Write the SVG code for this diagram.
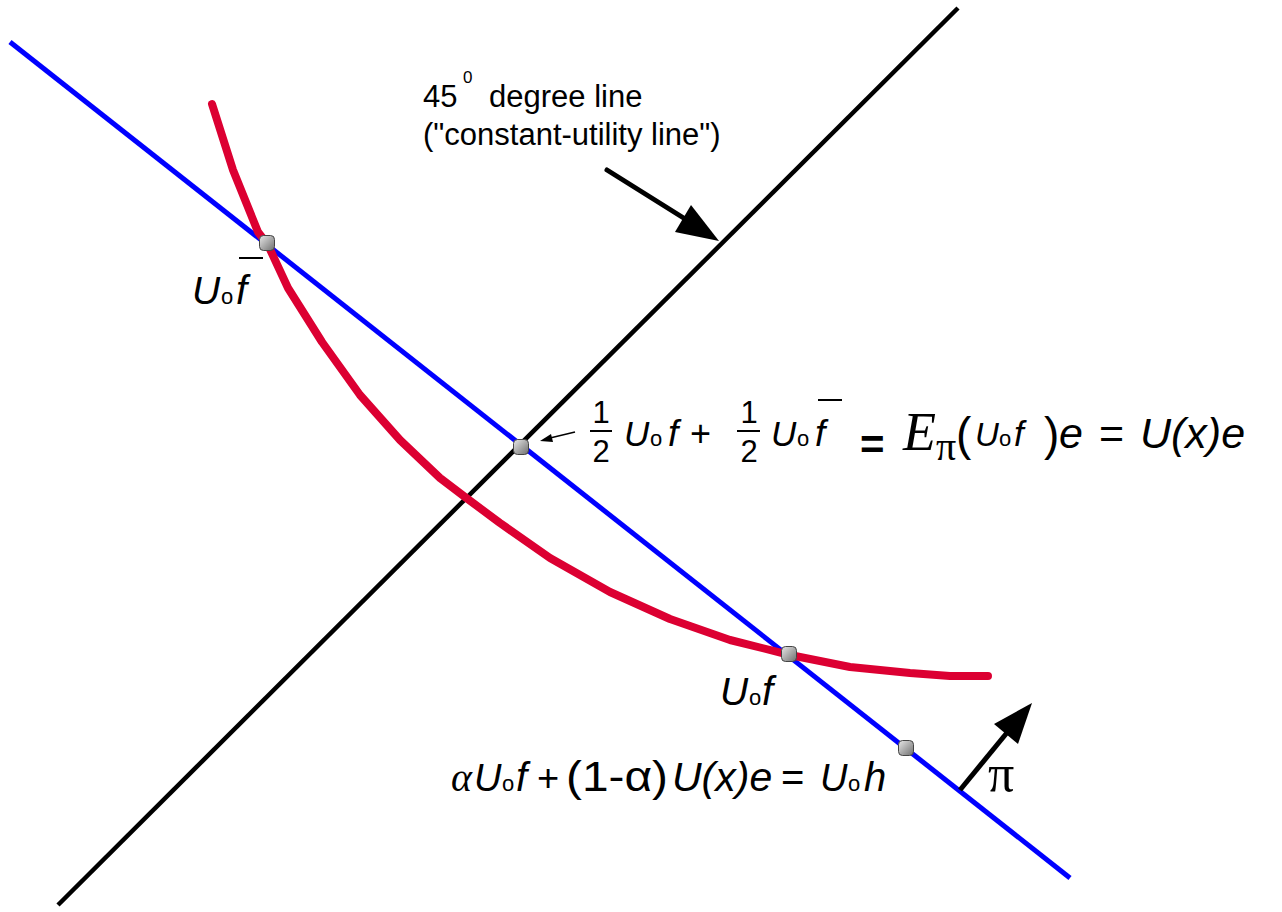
<svg xmlns="http://www.w3.org/2000/svg" width="1282" height="912" viewBox="0 0 1282 912">
<defs>
<linearGradient id="g" x1="0" y1="0" x2="1" y2="1">
<stop offset="0" stop-color="#e8e8e8"/>
<stop offset="1" stop-color="#6e6e6e"/>
</linearGradient>
<style>
.s{font-family:"Liberation Sans",Arial,sans-serif;fill:#000}
.i{font-style:italic}
.r{font-family:"Liberation Serif","Times New Roman",serif;fill:#000}
.o{font-family:"Liberation Sans",Arial,sans-serif;fill:#000;font-size:22px}
.bar{stroke:#000;stroke-width:2}
.pt{fill:url(#g);stroke:#444;stroke-width:1}
</style>
</defs>
<rect width="1282" height="912" fill="#fff"/>
<g id="connectors">
<line x1="58" y1="905" x2="958" y2="8" stroke="#000" stroke-width="4.5"/>
<line x1="10" y1="42" x2="1070" y2="878" stroke="#0000ff" stroke-width="5"/>
<polyline fill="none" stroke="#dc0032" stroke-width="8" stroke-linejoin="round" stroke-linecap="round" points="212,104 233,170 258,232 268,245 288,288 322,342 360,395 400,440 440,478 465,497 500,523 550,558 610,592 670,619 730,640 790,655 850,667 910,673 950,676 988,676"/>
<line x1="607" y1="170" x2="690" y2="222" stroke="#000" stroke-width="5" stroke-linecap="round"/>
<polygon points="719,241 675,232 691,205" fill="#000"/>
<line x1="960" y1="790" x2="1010" y2="729" stroke="#000" stroke-width="5"/>
<polygon points="1032,703 994,724 1018,744" fill="#000"/>
<line x1="575" y1="432" x2="550" y2="438" stroke="#000" stroke-width="1.5"/>
<polygon points="540,441 551,434 553,442" fill="#000"/>
</g>
<g id="points">
<rect class="pt" x="259.5" y="235.5" width="15" height="15" rx="4"/>
<rect class="pt" x="513.5" y="439.5" width="15" height="15" rx="4"/>
<rect class="pt" x="781.5" y="646.5" width="15" height="15" rx="4"/>
<rect class="pt" x="898.5" y="740.5" width="15" height="15" rx="4"/>
</g>
<g id="label-45">
<text class="s" x="423" y="107" font-size="31">45</text>
<text class="s" x="463" y="83" font-size="17">0</text>
<text class="s" x="489" y="107" font-size="31">degree line</text>
<text class="s" x="423" y="145" font-size="31">("constant-utility line")</text>
</g>
<g id="label-ufbar">
<text class="s i" x="192" y="304" font-size="39">U</text>
<text class="o" x="221" y="304">o</text>
<text class="s i" x="236" y="304" font-size="40">f</text>
<line class="bar" x1="239" y1="258" x2="263" y2="258"/>
</g>
<g id="label-uf">
<text class="s i" x="720" y="705" font-size="39">U</text>
<text class="o" x="749" y="705">o</text>
<text class="s i" x="762" y="705" font-size="40">f</text>
</g>
<g id="label-mid">
<text class="s" x="601" y="423" font-size="31" text-anchor="middle">1</text>
<line class="bar" x1="590" y1="431" x2="612" y2="431"/>
<text class="s" x="601" y="462" font-size="31" text-anchor="middle">2</text>
<text class="s i" x="624" y="446" font-size="35">U</text>
<text class="o" x="650" y="446">o</text>
<text class="s i" x="668" y="446" font-size="37">f</text>
<text class="s" x="690" y="446" font-size="36">+</text>
<text class="s" x="749" y="423" font-size="31" text-anchor="middle">1</text>
<line class="bar" x1="737" y1="431" x2="760" y2="431"/>
<text class="s" x="749" y="462" font-size="31" text-anchor="middle">2</text>
<text class="s i" x="771" y="446" font-size="35">U</text>
<text class="o" x="797" y="446">o</text>
<text class="s i" x="815" y="446" font-size="37">f</text>
<line class="bar" x1="818" y1="400" x2="842" y2="400"/>
<text class="s" x="860" y="459" font-size="42" font-weight="bold">=</text>
<text class="r i" x="903" y="450" font-size="54">E</text>
<text class="r" x="936" y="460" font-size="40">π</text>
<text class="s" x="956" y="450" font-size="46">(</text>
<text class="s i" x="975" y="446" font-size="33">U</text>
<text class="o" x="999" y="446">o</text>
<text class="s i" x="1014" y="446" font-size="35">f</text>
<text class="s" x="1044" y="450" font-size="46">)</text>
<text class="s i" x="1059" y="448" font-size="43">e</text>
<text class="s" x="1099" y="448" font-size="43">=</text>
<text class="s i" x="1140" y="448" font-size="43">U(x)e</text>
</g>
<g id="label-bottom">
<text class="r i" x="451" y="791" font-size="40">α</text>
<text class="s i" x="474" y="791" font-size="38">U</text>
<text class="o" x="502" y="791">o</text>
<text class="s i" x="516" y="791" font-size="40">f</text>
<text class="s" x="537" y="791" font-size="38">+</text>
<text class="s" x="566" y="791" font-size="42" textLength="102" lengthAdjust="spacingAndGlyphs">(1-α)</text>
<text class="s i" x="672" y="791" font-size="41">U(x)e</text>
<text class="s" x="781" y="791" font-size="40">=</text>
<text class="s i" x="820" y="791" font-size="38">U</text>
<text class="o" x="848" y="791">o</text>
<text class="s i" x="864" y="791" font-size="40">h</text>
</g>
<g id="label-pi">
<text class="r" x="988" y="791" font-size="52">π</text>
</g>
</svg>
